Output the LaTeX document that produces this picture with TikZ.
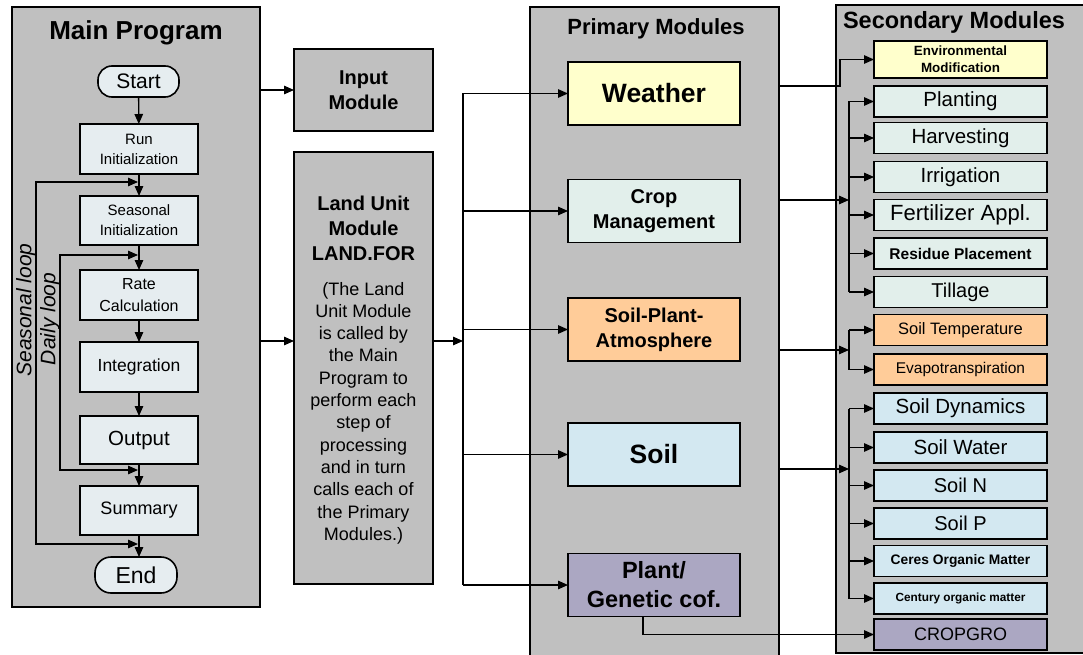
\documentclass[tikz,border=0pt]{standalone}
\usepackage{fontspec}
\setmainfont{Liberation Sans}
\usetikzlibrary{arrows.meta,calc}
\definecolor{panelgray}{HTML}{C0C0C0}
\definecolor{flowfill}{HTML}{E6EDF0}
\definecolor{wthr}{HTML}{FFFFCC}
\definecolor{cropc}{HTML}{E2EFEB}
\definecolor{spac}{HTML}{FFCC99}
\definecolor{soilc}{HTML}{D3E8F1}
\definecolor{plantc}{HTML}{ABA7C2}
\newcommand\fsz[2]{\fontsize{#1}{#2}\selectfont}
\begin{document}
\begin{tikzpicture}[x=1pt,y=-1pt,
 panel/.style={draw=black, line width=1.6pt, fill=panelgray, anchor=north west, inner sep=0, outer sep=0},
 flowbox/.style={draw=black, line width=1.6pt, fill=flowfill, minimum width=118pt, align=center, inner sep=0, outer sep=0},
 termbox/.style={flowbox, rounded corners=14pt, minimum width=81pt, minimum height=31pt},
 primbox/.style={draw=black, line width=1.6pt, minimum width=172pt, minimum height=63pt, align=center, inner sep=0, outer sep=0},
 secbox/.style={draw=black, line width=1.6pt, minimum width=173pt, minimum height=31pt, inner sep=0, outer sep=0, align=center},
 graybox/.style={draw=black, line width=1.6pt, fill=panelgray, minimum width=139pt, inner sep=0, outer sep=0, align=center},
 conn/.style={line width=1.3pt},
 arr/.style={conn, -{Triangle[length=10pt,width=8.5pt]}},
 arrtwo/.style={conn, {Triangle[length=10pt,width=8.5pt]}-{Triangle[length=10pt,width=8.5pt]}},
]
\useasboundingbox (0,0) rectangle (1083,655);
\clip (0,0) rectangle (1083,655);

% ---------- panels ----------
\node[panel, minimum width=248pt, minimum height=600pt] (mainp) at (12,7) {};
\node[panel, minimum width=249pt, minimum height=700pt] (primp) at (530,7) {};
\node[panel, minimum width=270pt, minimum height=648pt] (secp) at (836,5) {};

\node[font=\bfseries\fsz{26}{30}] (mainttl) at (136,33) {Main Program};
\node[font=\bfseries\fsz{22}{26}] (primttl) at (656,29) {Primary Modules};
\node[font=\bfseries\fsz{23.5}{27}] (secttl) at (954,22) {Secondary Modules};

% ---------- main program flow ----------
\node[termbox, font=\fsz{21}{25}] (start) at (138.5,81.5) {Start};
\node[flowbox, minimum height=50pt, font=\fsz{15}{20}] (runinit) at (139,149) {Run\\Initialization};
\node[flowbox, minimum height=49pt, font=\fsz{15}{20}] (seasinit) at (139,220.5) {Seasonal\\Initialization};
\node[flowbox, minimum height=50pt, font=\fsz{16}{22}] (rate) at (139,295) {Rate\\Calculation};
\node[flowbox, minimum height=50pt, font=\fsz{17.5}{21}] (integ) at (139,367) {Integration};
\node[flowbox, minimum height=48pt, font=\fsz{20.5}{24}] (output) at (139,440) {Output};
\node[flowbox, minimum height=49pt, font=\fsz{18}{22}] (summary) at (139,510.5) {Summary};
\node[termbox, minimum width=82pt, minimum height=36pt, rounded corners=16pt, font=\fsz{23}{27}] (endn) at (136,575) {End};

\draw[arr] (start) -- (runinit);
\draw[arr] (runinit) -- (seasinit);
\draw[arr] (seasinit) -- (rate);
\draw[arr] (rate) -- (integ);
\draw[arr] (integ) -- (output);
\draw[arr] (output) -- (summary);
\draw[arr] (summary) -- (endn.north -| summary.south);

\coordinate (sTop) at (138,182);
\coordinate (sBot) at (138,544);
\coordinate (dTop) at (138,255);
\coordinate (dBot) at (138,470);
\draw[arrtwo] (sBot) -- (36,544) -- (36,182) -- (sTop);
\draw[arrtwo] (dBot) -- (60,470) -- (60,255) -- (dTop);
\node[rotate=90, font=\itshape\fsz{21}{25}] (seasl) at (26,310) {Seasonal loop};
\node[rotate=90, font=\itshape\fsz{21}{25}] (dayl) at (50,319) {Daily loop};

% ---------- input and land unit ----------
\node[graybox, minimum height=82pt, font=\bfseries\fsz{20}{25}] (input) at (363.5,90) {Input\\Module};
\node[graybox, minimum height=432pt] (land) at (363.5,368) {};
\node[font=\bfseries\fsz{20}{25}, align=center] (landttl) at (363.5,228) {Land Unit\\Module\\LAND.FOR};
\node[font=\fsz{18}{22.3}, align=center] (landtxt) at (363.5,413) {(The Land\\Unit Module\\is called by\\the Main\\Program to\\perform each\\step of\\processing\\and in turn\\calls each of\\the Primary\\Modules.)};

\coordinate (m1) at (260,341);
\draw[arr] (input.west -| mainp.east) -- (input.west);
\draw[arr] (m1) -- (m1 -| land.west);

% ---------- primary modules ----------
\node[primbox, fill=wthr, font=\bfseries\fsz{26.5}{30}] (weather) at (654,93.5) {Weather};
\node[primbox, fill=cropc, font=\bfseries\fsz{20}{25}] (crop) at (654,211) {Crop\\Management};
\node[primbox, fill=spac, font=\bfseries\fsz{20}{25}] (spa) at (654,329.5) {Soil-Plant-\\Atmosphere};
\node[primbox, fill=soilc, font=\bfseries\fsz{26.5}{30}] (soil) at (654,454.5) {Soil};
\node[primbox, fill=plantc, font=\bfseries\fsz{23.5}{29}] (plant) at (654,585) {Plant/\\Genetic cof.};

\coordinate (lb) at (463,341);
\draw[arr] (land.east |- lb) -- (lb);
\draw[conn] (lb |- weather.west) -- (lb |- plant.west);
\foreach \n in {weather,crop,spa,soil,plant} \draw[arr] (lb |- \n.west) -- (\n.west);

% ---------- secondary modules ----------
\node[secbox, fill=wthr, minimum height=37pt, font=\bfseries\fsz{13.4}{17}] (env) at (960.5,59.5) {Environmental\\Modification};
\node[secbox, fill=cropc, font=\fsz{20.5}{24}] (planting) at (960.5,101.5) {Planting};
\node[secbox, fill=cropc, font=\fsz{20.5}{24}] (harv) at (960.5,138) {Harvesting};
\node[secbox, fill=cropc, font=\fsz{20.5}{24}] (irrig) at (960.5,177) {Irrigation};
\node[secbox, fill=cropc, font=\fsz{22}{24}] (fert) at (960.5,215) {Fertilizer Appl.};
\node[secbox, fill=cropc, font=\bfseries\fsz{15.5}{19}] (resid) at (960.5,253.5) {Residue Placement};
\node[secbox, fill=cropc, font=\fsz{20}{24}] (till) at (960.5,292) {Tillage};
\node[secbox, fill=spac, font=\fsz{16.5}{20}] (stemp) at (960.5,330) {Soil Temperature};
\node[secbox, fill=spac, font=\fsz{15.5}{19}] (evap) at (960.5,369.5) {Evapotranspiration};
\node[secbox, fill=soilc, font=\fsz{20.5}{24}] (sdyn) at (960.5,408.5) {Soil Dynamics};
\node[secbox, fill=soilc, font=\fsz{20.5}{24}] (swat) at (960.5,447.5) {Soil Water};
\node[secbox, fill=soilc, font=\fsz{20}{24}] (sn) at (960.5,485.5) {Soil N};
\node[secbox, fill=soilc, font=\fsz{20}{24}] (sp) at (960.5,523.5) {Soil P};
\node[secbox, fill=soilc, font=\bfseries\fsz{13.8}{17}] (ceres) at (960.5,561) {Ceres Organic Matter};
\node[secbox, fill=soilc, font=\bfseries\fsz{11.8}{15}] (cent) at (960.5,598.5) {Century organic matter};
\node[secbox, fill=plantc, font=\fsz{18}{22}] (cropgro) at (960.5,634.5) {CROPGRO};

% weather -> environmental modification
\coordinate (w1) at (779,86);
\coordinate (w2) at (840,86);
\draw[arr] (w1) -- (w2) |- (env.west);

% crop management bus
\coordinate (c1) at (779,200);
\coordinate (cb) at (849,200);
\draw[arr] (c1) -- (cb);
\draw[conn] (cb |- planting.west) -- (cb |- till.west);
\foreach \n in {planting,harv,irrig,fert,resid,till} \draw[arr] (cb |- \n.west) -- (\n.west);

% soil-plant-atmosphere bus
\coordinate (a1) at (779,350);
\coordinate (ab) at (849,350);
\draw[arr] (a1) -- (ab);
\draw[conn] (ab |- stemp.west) -- (ab |- evap.west);
\foreach \n in {stemp,evap} \draw[arr] (ab |- \n.west) -- (\n.west);

% soil bus
\coordinate (s1) at (779,469);
\coordinate (sb) at (849,469);
\draw[arr] (s1) -- (sb);
\draw[conn] (sb |- sdyn.west) -- (sb |- cent.west);
\foreach \n in {sdyn,swat,sn,sp,ceres,cent} \draw[arr] (sb |- \n.west) -- (\n.west);

% plant -> cropgro
\draw[arr] ([xshift=-11pt]plant.south) |- (cropgro.west);
\end{tikzpicture}
\end{document}
